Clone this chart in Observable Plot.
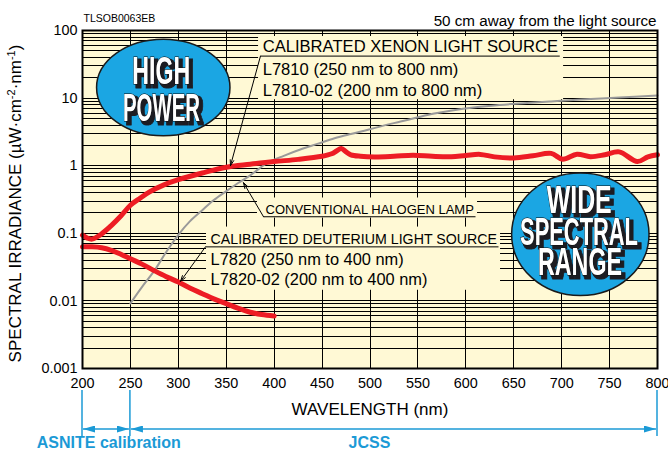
<!DOCTYPE html>
<html>
<head>
<meta charset="utf-8">
<script src="https://cdn.jsdelivr.net/npm/d3@7"></script>
<script src="https://cdn.jsdelivr.net/npm/@observablehq/plot@0.6"></script>
<style>
  html, body { margin: 0; padding: 0; background: #fff; }
  svg { display: block; }
</style>
</head>
<body>
<div id="chart"></div>
<script>
// ---------------- data ----------------
const xenonWavelength = [200,205,210,220,230,240,250,260,270,285,300,325,350,375,400,425,450,460,465,470,475,480,490,505,525,545,565,585,600,615,630,650,670,689,701,716,730,745,760,779,790,800];
const xenonIrradiance = [0.094,0.085,0.082,0.098,0.13,0.18,0.26,0.33,0.41,0.52,0.62,0.78,0.95,1.05,1.15,1.24,1.38,1.5,1.65,1.8,1.6,1.45,1.38,1.35,1.38,1.43,1.38,1.36,1.42,1.47,1.35,1.3,1.4,1.52,1.25,1.48,1.36,1.45,1.6,1.15,1.35,1.45];

const deuteriumWavelength = [200,210,220,230,240,250,262,275,287,300,312,325,337,350,362,375,387,400];
const deuteriumIrradiance = [0.063,0.063,0.061,0.056,0.049,0.042,0.035,0.028,0.023,0.019,0.0155,0.0128,0.0107,0.0091,0.0078,0.0068,0.0063,0.006];

const halogenWavelength = [250,262,275,287,300,312,325,337,350,362,375,393,410,428,445,463,480,498,515,532,550,567,584,610,635,660,689,720,760,800];
const halogenIrradiance = [0.0092,0.016,0.028,0.052,0.095,0.15,0.22,0.31,0.42,0.55,0.72,1.1,1.4,1.75,2.1,2.55,2.95,3.4,3.95,4.5,5.2,5.9,6.5,7.3,7.9,8.4,8.9,9.5,10.2,10.9];

const xTicks = [200,250,300,350,400,450,500,550,600,650,700,750,800];
const yTicks = [0.001,0.01,0.1,1,10,100];
const yTickLabels = ["0.001","0.01","0.1","1","10","100"];

// annotation texts (positions in data units: nm, irradiance)
const xenonLabel = [
  {x: 388, y: 58.4, text: "CALIBRATED XENON LIGHT SOURCE"},
  {x: 388, y: 26.6, text: "L7810 (250 nm to 800 nm)"},
  {x: 388, y: 13.0, text: "L7810-02 (200 nm to 800 nm)"}
];
const halogenLabel = [{x: 391, y: 0.2225, text: "CONVENTIONAL HALOGEN LAMP"}];
const deuteriumTitle = [{x: 333.6, y: 0.0806, text: "CALIBRATED DEUTERIUM LIGHT SOURCE"}];
const deuteriumLines = [
  {x: 333.6, y: 0.0404, text: "L7820 (250 nm to 400 nm)"},
  {x: 333.6, y: 0.0204, text: "L7820-02 (200 nm to 400 nm)"}
];
const labelBoxes = [
  {x1: 383.7, x2: 702, y1: 9.47, y2: 81.5},
  {x1: 382.6, x2: 612.2, y1: 0.168, y2: 0.333},
  {x1: 329.4, x2: 636.2, y1: 0.01437, y2: 0.1236}
];
const underlines = [
  {x1: 385.7, x2: 698, y1: 41.8, y2: 41.8},
  {x1: 388.9, x2: 610.1, y1: 0.1757, y2: 0.1757},
  {x1: 328.3, x2: 634.1, y1: 0.063, y2: 0.063}
];
const leaders = [
  {x1: 385.7, y1: 41.8, x2: 354.4, y2: 1.0},
  {x1: 388.9, y1: 0.1757, x2: 368, y2: 0.56},
  {x1: 328.3, y1: 0.063, x2: 302.3, y2: 0.0195}
];
const bubbles = [
  {x: 284.8, y: 14.1, lines: ["HIGH", "POWER"]},
  {x: 720, y: 0.095, lines: ["WIDE", "SPECTRAL", "RANGE"]}
];
const ranges = [
  {from: 200, to: 250, label: "ASNITE calibration", labelAt: 228},
  {from: 250, to: 800, label: "JCSS", labelAt: 500}
];

// ---------------- build ----------------
const CREAM = "#fff9d5";
const RED = "#ed1c24";
const BLUE = "#1b9ad6";
const BUBBLE = "#1ba6e3";

const xenon = xenonWavelength.map((w, i) => ({w, v: xenonIrradiance[i]}));
const deuterium = deuteriumWavelength.map((w, i) => ({w, v: deuteriumIrradiance[i]}));
const halogen = halogenWavelength.map((w, i) => ({w, v: halogenIrradiance[i]}));

const minorGrid = [];
for (const d of yTicks.slice(0, -1)) for (let k = 1; k <= 9; k++) if (!(d === yTicks[0] && k === 1)) minorGrid.push(+(d * k).toPrecision(3));

const W = 668, H = 450;
const mL = 82, mR = 11, mT = 30, mB = 82;

const plot = Plot.plot({
  width: W, height: H,
  marginLeft: mL, marginRight: mR, marginTop: mT, marginBottom: mB,
  style: {fontFamily: "'Liberation Sans', Arial, Helvetica, sans-serif", fontSize: "14.4px", color: "black", background: "white", overflow: "visible"},
  x: {domain: [200, 800]},
  y: {type: "log", domain: [0.001, 100]},
  marks: [
    Plot.frame({fill: CREAM}),
    Plot.ruleY(minorGrid, {stroke: "black", strokeWidth: 1, shapeRendering: "crispEdges"}),
    Plot.ruleX(xTicks.slice(1, -1), {stroke: "black", strokeWidth: 1, shapeRendering: "crispEdges"}),
    Plot.rect(labelBoxes, {x1: "x1", x2: "x2", y1: "y1", y2: "y2", fill: CREAM}),
    Plot.line(halogen, {x: "w", y: "v", stroke: "#9a9a9a", strokeWidth: 2, curve: "catmull-rom"}),
    Plot.line(xenon, {x: "w", y: "v", stroke: RED, strokeWidth: 5, curve: "catmull-rom", strokeLinecap: "round"}),
    Plot.line(deuterium, {x: "w", y: "v", stroke: RED, strokeWidth: 5, curve: "catmull-rom", strokeLinecap: "round"}),
    Plot.link(underlines, {x1: "x1", y1: "y1", x2: "x2", y2: "y2", stroke: "black", strokeWidth: 1}),
    Plot.arrow(leaders, {x1: "x1", y1: "y1", x2: "x2", y2: "y2", stroke: "black", strokeWidth: 1, headLength: 9, headAngle: 35}),
    Plot.text(xenonLabel, {x: "x", y: "y", text: "text", textAnchor: "start", fontSize: 16.6, fill: "black"}),
    Plot.text(halogenLabel, {x: "x", y: "y", text: "text", textAnchor: "start", fontSize: 13, fill: "black"}),
    Plot.text(deuteriumTitle, {x: "x", y: "y", text: "text", textAnchor: "start", fontSize: 14.2, fill: "black"}),
    Plot.text(deuteriumLines, {x: "x", y: "y", text: "text", textAnchor: "start", fontSize: 16.4, fill: "black"}),
    Plot.axisX({ticks: xTicks, tickSize: 0, tickPadding: 9, fontSize: 14.4, label: null}),
    Plot.axisY({ticks: yTicks, tickFormat: d => yTickLabels[yTicks.indexOf(d)], tickSize: 0, tickPadding: 5, fontSize: 14.4, label: null}),
    Plot.text(["WAVELENGTH (nm)"], {frameAnchor: "bottom", lineAnchor: "middle", dy: 41, fontSize: 17, fill: "black"}),
    Plot.text(["TLSOB0063EB"], {frameAnchor: "top-left", lineAnchor: "middle", textAnchor: "start", dx: 1, dy: -11.7, fontSize: 10.5, fill: "black"}),
    Plot.text(["50 cm away from the light source"], {frameAnchor: "top-right", lineAnchor: "middle", textAnchor: "end", dx: -1, dy: -9.2, fontSize: 15.2, fill: "black"}),
    Plot.frame({stroke: "black", strokeWidth: 2})
  ]
});

document.getElementById("chart").appendChild(plot);

const svg = d3.select(plot);
const xs = plot.scale("x"), ys = plot.scale("y");
const defs = svg.append("defs");

// y-axis label with superscripts
const ylab = svg.append("text")
  .attr("transform", `translate(20.7, ${(mT + (H - mB)) / 2 + 4.5}) rotate(-90)`)
  .attr("text-anchor", "middle")
  .attr("font-size", 17)
  .attr("fill", "black");
ylab.append("tspan").text("SPECTRAL IRRADIANCE (\u00b5W\u00b7cm");
ylab.append("tspan").attr("font-size", 11).attr("dy", -6).text("-2");
ylab.append("tspan").attr("dy", 6).text("\u00b7nm");
ylab.append("tspan").attr("font-size", 11).attr("dy", -6).text("-1");
ylab.append("tspan").attr("dy", 6).text(")");

// drop shadow for bubble lettering
const f = defs.append("filter").attr("id", "bubbleShadow")
  .attr("x", "-20%").attr("y", "-30%").attr("width", "140%").attr("height", "160%");
f.append("feMorphology").attr("in", "SourceAlpha").attr("operator", "dilate").attr("radius", 0.6).attr("result", "fat");
f.append("feOffset").attr("in", "fat").attr("dx", 3).attr("dy", 2.5).attr("result", "off");
f.append("feFlood").attr("flood-color", "#1c1c24");
f.append("feComposite").attr("in2", "off").attr("operator", "in").attr("result", "shadow");
const fm = f.append("feMerge");
fm.append("feMergeNode").attr("in", "shadow");
fm.append("feMergeNode").attr("in", "SourceGraphic");

// bubbles (condensed lettering by horizontal scaling)
const bubbleLayout = [
  {rx: 66.7, ry: 48.3, fs: 39, rows: [{dx: -31, w: 58, dy: -3.3}, {dx: -40.3, w: 77, dy: 33.4}]},
  {rx: 68.7, ry: 61.3, fs: 38, rows: [{dx: -33.6, w: 65, dy: -21.4}, {dx: -60.3, w: 118, dy: 10.3}, {dx: -42.3, w: 84, dy: 40.3}]}
];
bubbles.forEach((b, i) => {
  const L = bubbleLayout[i];
  const cx = xs.apply(b.x), cy = ys.apply(b.y);
  const g = svg.append("g").attr("text-anchor", "start");
  g.append("ellipse").attr("cx", cx).attr("cy", cy).attr("rx", L.rx).attr("ry", L.ry)
    .attr("fill", BUBBLE).attr("stroke", "#1a1a1a").attr("stroke-width", 1.5);
  const tg = g.append("g").attr("filter", "url(#bubbleShadow)");
  b.lines.forEach((t, j) => {
    const r = L.rows[j];
    const txt = tg.append("text")
      .attr("x", 0).attr("y", 0)
      .attr("text-anchor", "start")
      .attr("font-family", "'Liberation Sans', Arial, sans-serif")
      .attr("font-weight", "bold")
      .attr("font-size", L.fs)
      .attr("fill", "white").attr("stroke", "black").attr("stroke-width", 0.8)
      .attr("paint-order", "stroke")
      .text(t);
    const natural = txt.node().getComputedTextLength() || r.w;
    const sx = r.w / natural;
    txt.attr("transform", `translate(${cx + r.dx},${cy + r.dy}) scale(${sx},1)`)
      .attr("stroke-width", 0.8 / Math.sqrt(sx));
  });
});

// calibration ranges under the axis
defs.append("marker").attr("id", "bluehead")
  .attr("viewBox", "0 0 12 7").attr("refX", 12).attr("refY", 3.5)
  .attr("markerWidth", 12).attr("markerHeight", 7).attr("markerUnits", "userSpaceOnUse")
  .attr("orient", "auto-start-reverse")
  .append("path").attr("d", "M0,0 L12,3.5 L0,7 Z").attr("fill", BLUE);

const yBottom = H - mB;
const edges = Array.from(new Set(ranges.flatMap(r => [r.from, r.to])));
edges.forEach(e => {
  svg.append("line").attr("x1", xs.apply(e)).attr("x2", xs.apply(e))
    .attr("y1", yBottom + 22).attr("y2", yBottom + 68)
    .attr("stroke", BLUE).attr("stroke-width", 1.5);
});
ranges.forEach(r => {
  svg.append("line").attr("x1", xs.apply(r.from) + 1).attr("x2", xs.apply(r.to) - 1)
    .attr("y1", yBottom + 61).attr("y2", yBottom + 61)
    .attr("stroke", BLUE).attr("stroke-width", 1.5)
    .attr("marker-start", "url(#bluehead)").attr("marker-end", "url(#bluehead)");
  svg.append("text").attr("x", xs.apply(r.labelAt)).attr("y", yBottom + 80)
    .attr("text-anchor", "middle").attr("font-size", 16).attr("font-weight", "bold")
    .attr("fill", BLUE).text(r.label);
});
</script>
</body>
</html>
